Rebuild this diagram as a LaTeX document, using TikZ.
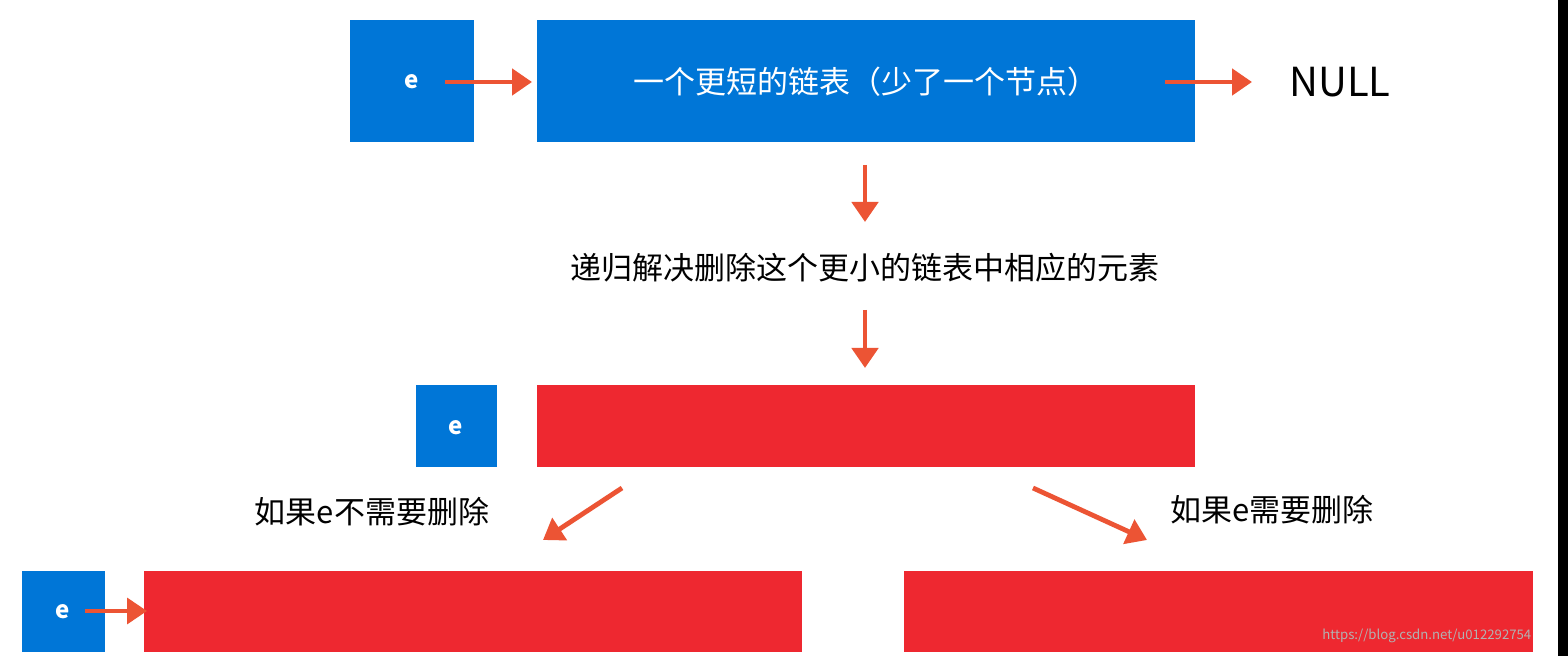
\documentclass[tikz,border=0pt]{standalone}
\usepackage{fontspec}
\setmainfont{Noto Sans CJK SC}
\usetikzlibrary{arrows.meta}
\definecolor{bblue}{RGB}{0,118,215}
\definecolor{rred}{RGB}{238,40,48}
\definecolor{aor}{RGB}{236,84,52}
\tikzset{
 arr/.style={aor,line width=2.4pt,-{Triangle[length=10pt,width=13pt]}},
 lab/.style={font=\fontsize{15.5}{18}\selectfont},
}
\begin{document}
\begin{tikzpicture}[x=0.5pt,y=-0.5pt]
\useasboundingbox (0,0) rectangle (1568,656);
\fill[white] (0,0) rectangle (1568,656);
\fill[black] (1558,0) rectangle (1568,656);
\fill[bblue] (350,20) rectangle (474,142);
\node[white,font=\bfseries\fontsize{12}{14}\selectfont] (te1) at (412,82) {e};
\fill[bblue] (537,20) rectangle (1195,142);
\node[white,lab] (tl) at (866,82) {一个更短的链表（少了一个节点）};
\node[font=\fontsize{20}{24}\selectfont] (null) at (1340,82) {NULL};
\coordinate (a1s) at (445,82); \coordinate (a1e) at (532,82);
\draw[arr] (a1s) -- (a1e);
\coordinate (a2s) at (1165,82); \coordinate (a2e) at (1252,82);
\draw[arr] (a2s) -- (a2e);
\coordinate (d1s) at (865,165); \coordinate (d1e) at (865,222);
\draw[arr] (d1s) -- (d1e);
\node[lab] (mid) at (865,268) {递归解决删除这个更小的链表中相应的元素};
\coordinate (d2s) at (865,310); \coordinate (d2e) at (865,368);
\draw[arr] (d2s) -- (d2e);
\fill[bblue] (416,385) rectangle (497,467);
\node[white,font=\bfseries\fontsize{12}{14}\selectfont] (te2) at (456,428) {e};
\fill[rred] (537,385) rectangle (1195,467);
\coordinate (l1) at (622,488); \coordinate (l2) at (543,540);
\draw[arr] (l1) -- (l2);
\node[lab] (nl) at (372,512) {如果e不需要删除};
\coordinate (r1) at (1033,488); \coordinate (r2) at (1147,540);
\draw[arr] (r1) -- (r2);
\node[lab] (nr) at (1272,510) {如果e需要删除};
\fill[bblue] (22,571) rectangle (105,652);
\node[white,font=\bfseries\fontsize{12}{14}\selectfont] (te3) at (63,612) {e};
\fill[rred] (144,571) rectangle (802,652);
\coordinate (b1) at (85,611); \coordinate (b2) at (147,611);
\draw[arr,line width=1.8pt] (b1) -- (b2);
\fill[rred] (904,571) rectangle (1533,652);
\node[text=gray!60,anchor=west,inner sep=0pt,font=\fontsize{6.6}{9}\selectfont] (wm) at (1322,636) {https://blog.csdn.net/u012292754};
\end{tikzpicture}
\end{document}
